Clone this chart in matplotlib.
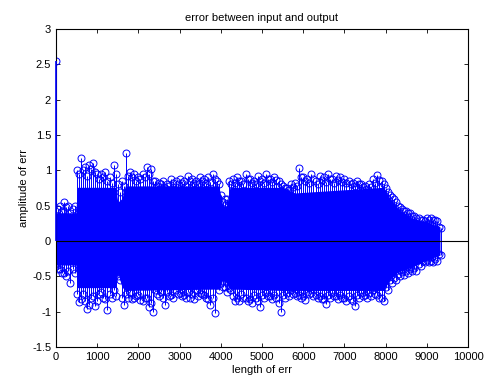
import matplotlib
matplotlib.use('Agg')
import matplotlib.pyplot as plt
import numpy as np

# peak values per 100-sample bin
bin_start = list(range(0, 9400, 100))
upper = [2.55, 0.5, 0.55, 0.5, 0.45, 1.0, 1.17, 1.05, 1.08, 1.1,
         0.95, 0.95, 0.97, 0.9, 1.07, 0.8, 0.85, 1.25, 0.98, 0.95,
         0.9, 0.95, 1.05, 1.02, 0.85, 0.82, 0.85, 0.8, 0.88, 0.85,
         0.88, 0.85, 0.92, 0.88, 0.85, 0.9, 0.88, 0.9, 0.95, 0.85,
         0.65, 0.6, 0.85, 0.88, 0.9, 0.85, 0.95, 0.88, 0.85, 0.92,
         0.88, 0.95, 0.88, 0.9, 0.85, 0.78, 0.75, 0.8, 0.82, 1.03,
         0.9, 0.88, 0.95, 0.85, 0.92, 0.9, 0.95, 0.88, 0.92, 0.9,
         0.88, 0.85, 0.82, 0.85, 0.8, 0.78, 0.8, 0.88, 0.93, 0.85,
         0.75, 0.65, 0.6, 0.5, 0.45, 0.42, 0.4, 0.35, 0.33, 0.3,
         0.32, 0.33, 0.3, 0.2]
lower = [-0.4, -0.45, -0.5, -0.59, -0.45, -0.86, -0.75, -0.96, -0.8, -0.92,
         -0.75, -0.8, -0.98, -0.8, -0.78, -0.55, -0.9, -0.8, -0.82, -0.78,
         -0.83, -0.8, -0.93, -1.0, -0.75, -0.72, -0.9, -0.78, -0.8, -0.75,
         -0.78, -0.8, -0.8, -0.82, -0.78, -0.75, -0.8, -0.9, -1.02, -0.7,
         -0.65, -0.72, -0.7, -0.85, -0.85, -0.8, -0.85, -0.88, -0.8, -0.94,
         -0.8, -0.78, -0.82, -0.8, -1.0, -0.8, -0.78, -0.75, -0.78, -0.8,
         -0.84, -0.75, -0.78, -0.8, -0.82, -0.89, -0.8, -0.78, -0.82, -0.8,
         -0.85, -0.82, -0.92, -0.8, -0.78, -0.8, -0.78, -0.75, -0.8, -0.85,
         -0.7, -0.6, -0.55, -0.5, -0.48, -0.45, -0.42, -0.42, -0.35, -0.3,
         -0.3, -0.3, -0.28, -0.2]

# second-highest values per bin
upper2 = [0.45, 0.42, 0.48, 0.4, 0.5,
          0.95, 1.0, 0.92, 1.02, 0.98, 0.88, 0.9, 0.85, 0.82, 0.95,
          0.7, 0.78,
          0.92, 0.9, 0.85, 0.88, 0.9, 0.95, 0.85,
          0.78, 0.8, 0.75, 0.78, 0.82, 0.8, 0.82, 0.78, 0.85, 0.82, 0.8, 0.85, 0.82, 0.84, 0.88, 0.8,
          0.55, 0.6,
          0.8, 0.82, 0.85, 0.8, 0.88, 0.82, 0.8, 0.85, 0.82, 0.88, 0.84, 0.86, 0.8, 0.75, 0.72, 0.76, 0.78, 0.9,
          0.85, 0.82, 0.88, 0.8, 0.86, 0.84, 0.88, 0.82, 0.86, 0.84,
          0.82, 0.8, 0.78, 0.8, 0.76, 0.74, 0.76, 0.82, 0.86, 0.8,
          0.7, 0.62, 0.55, 0.48, 0.42, 0.4, 0.36, 0.33, 0.3, 0.28, 0.3, 0.3, 0.28, 0.18]
lower2 = [-0.35, -0.4, -0.45, -0.42, -0.4,
          -0.75, -0.82, -0.85, -0.9, -0.78, -0.85, -0.72, -0.82, -0.75, -0.7,
          -0.5, -0.8,
          -0.75, -0.72, -0.8, -0.76, -0.85, -0.8, -0.88,
          -0.7, -0.78, -0.8, -0.72, -0.76, -0.7, -0.74, -0.76, -0.72, -0.75, -0.7, -0.74, -0.76, -0.82, -0.8, -0.62,
          -0.6, -0.65,
          -0.66, -0.78, -0.8, -0.75, -0.8, -0.82, -0.76, -0.85, -0.76, -0.74, -0.78, -0.76, -0.88, -0.76, -0.74, -0.7, -0.74, -0.76,
          -0.78, -0.72, -0.74, -0.76, -0.78, -0.82, -0.76, -0.74, -0.78, -0.76,
          -0.8, -0.78, -0.85, -0.76, -0.74, -0.76, -0.74, -0.7, -0.76, -0.8,
          -0.65, -0.55, -0.52, -0.46, -0.44, -0.42, -0.4, -0.38, -0.32, -0.28, -0.27, -0.28, -0.26, -0.18]

# dense core of the stem cloud (solid blue region)
core_x = [10, 480, 520, 1450, 1500, 1600, 1680, 3950, 4050, 4150, 4220, 5500, 5800, 7950, 8100, 8300, 8600, 9000, 9320]
core_hi = [0.4, 0.4, 0.76, 0.76, 0.55, 0.6, 0.78, 0.78, 0.5, 0.5, 0.76, 0.76, 0.68, 0.76, 0.6, 0.46, 0.33, 0.27, 0.2]
core_lo = [-0.34, -0.34, -0.66, -0.66, -0.45, -0.65, -0.7, -0.68, -0.55, -0.6, -0.68, -0.7, -0.7, -0.7, -0.55, -0.44, -0.38, -0.27, -0.2]

plt.rcParams['font.family'] = ['Liberation Sans', 'DejaVu Sans']
plt.rcParams['font.size'] = 8

fig = plt.figure(figsize=(4.85, 3.81), dpi=100)
ax = fig.add_axes([56 / 485, 34 / 381, 412 / 485, 318 / 381])

blue = '#0000ff'
xa = np.array(bin_start) + 1
xb = np.array(bin_start) + 50

ax.fill_between(core_x, core_lo, core_hi, color=blue, lw=0)
for xs, ys in [(xa, upper), (xb, lower), (xb, upper2), (xa, lower2)]:
    ax.vlines(xs, 0, ys, color=blue, lw=0.7)
    ax.plot(xs, ys, 'o', mfc='none', mec=blue, ms=5, mew=0.7)
# the big first sample sits on the left axis line
ax.vlines(xa[0], 0, upper[0], color=blue, lw=1.2, zorder=3, clip_on=False)
ax.axhline(0, color='k', lw=0.8)

ax.set_xlim(0, 10000)
ax.set_ylim(-1.5, 3)
ax.set_xticks(np.arange(0, 10001, 1000))
ax.set_yticks(np.arange(-1.5, 3.01, 0.5))
ax.set_yticklabels(['-1.5', '-1', '-0.5', '0', '0.5', '1', '1.5', '2', '2.5', '3'])
ax.tick_params(direction='in', top=True, right=True, length=3, width=0.6)
for s in ax.spines.values():
    s.set_linewidth(0.8)

ax.set_title('error between input and output', fontsize=8)
ax.set_xlabel('length of err', labelpad=2)
ax.set_ylabel('amplitude of err', labelpad=2)

fig.savefig('out.png', dpi=100)
